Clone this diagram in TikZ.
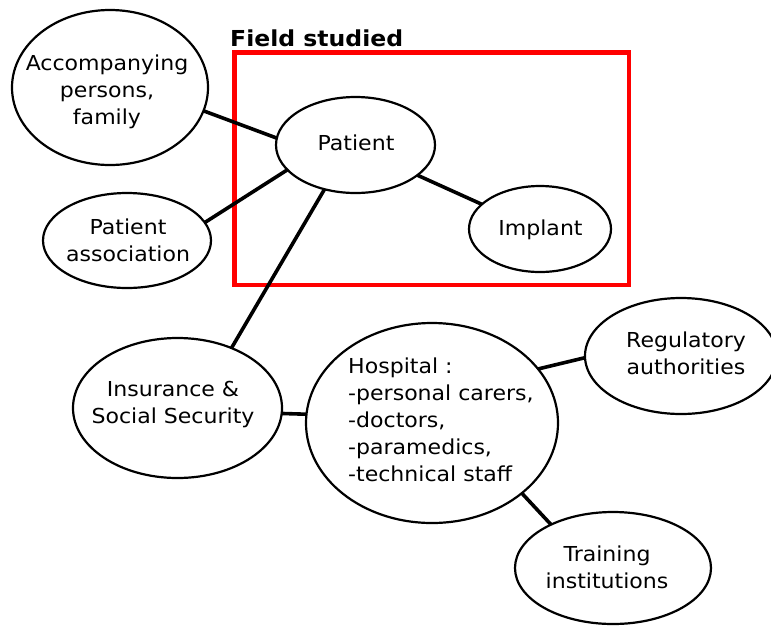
\documentclass[tikz,border=0pt]{standalone}
\usepackage{fontspec}
\setmainfont[FakeStretch=1.07]{DejaVu Sans}
\usetikzlibrary{shapes.geometric}
\begin{document}
\begin{tikzpicture}[x=1pt,y=-1pt,
  ell/.style={draw, ellipse, line width=2.2pt, inner sep=0pt, outer sep=0pt},
  lbl/.style={align=center, font=\fontsize{20.6}{27}\selectfont, inner sep=0pt},
  link/.style={line width=3.6pt}]
\useasboundingbox (0,0) rectangle (771,625);
% ellipses
\node[ell, minimum width=196pt, minimum height=155pt] (acc) at (110,87.5) {};
\node[ell, minimum width=159pt, minimum height=96pt] (pat) at (355.5,145) {};
\node[ell, minimum width=168pt, minimum height=95pt] (assoc) at (127,240.5) {};
\node[ell, minimum width=142pt, minimum height=86pt] (imp) at (540,229) {};
\node[ell, minimum width=209pt, minimum height=140pt] (ins) at (177.5,408) {};
\node[ell, minimum width=252pt, minimum height=200pt] (hosp) at (432,423) {};
\node[ell, minimum width=192pt, minimum height=116pt] (reg) at (681,356) {};
\node[ell, minimum width=196pt, minimum height=112pt] (train) at (613,568) {};
% field studied frame
\node[draw=red, line width=4.5pt, inner sep=0pt, outer sep=0pt,
      minimum width=394.5pt, minimum height=232.5pt] (field) at (431.75,168.75) {};
\node[anchor=base west, inner sep=0pt, font=\bfseries\fontsize{22}{27}\selectfont] (ftitle) at (230,46) {Field studied};
% labels
\node[lbl] (accT) at (107,92) {Accompanying\\persons,\\family};
\node[lbl] (patT) at (356,143) {Patient};
\node[lbl] (assocT) at (128,240) {Patient\\association};
\node[lbl] (impT) at (540.5,230) {Implant};
\node[lbl] (insT) at (173,404) {Insurance \&\\Social Security};
\node[lbl, align=left, anchor=west] (hospT) at (348,420) {Hospital :\\-personal carers,\\-doctors,\\-paramedics,\\-technical staff};
\node[lbl] (regT) at (686,353) {Regulatory\\authorities};
\node[lbl] (trainT) at (607,567) {Training\\institutions};
% connectors
\draw[link] (acc.-14) -- (pat.175);
\draw[link] (assoc.13) -- (pat.200);
\draw[link] (pat.235) -- (ins.48);
\draw[link] (pat.-26) -- (imp.157);
\draw[link] (ins.-3) -- (hosp.176);
\draw[link] (hosp.27) -- (reg.181);
\draw[link] (hosp.-38) -- (train.145);
\end{tikzpicture}
\end{document}
